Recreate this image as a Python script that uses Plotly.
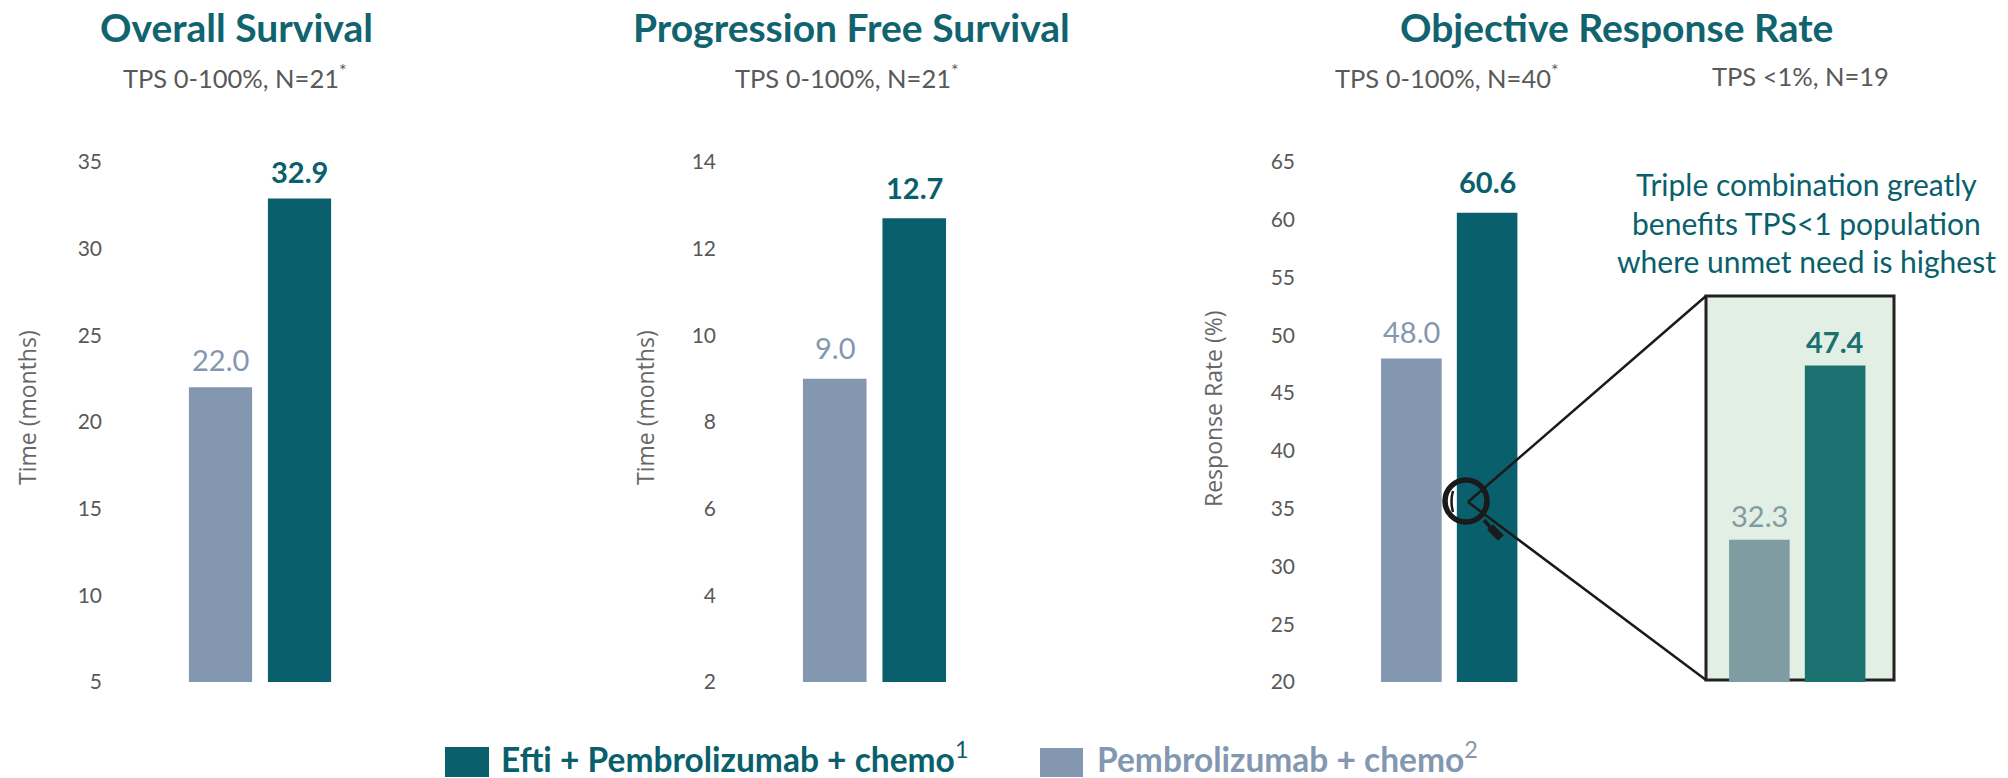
import plotly.graph_objects as go

W, H = 2008, 778
TEAL = "#095F6B"
GREY = "#8497B0"
INSET_TEAL = "#1B7070"
INSET_GREY = "#7F9CA3"
TEXT = "#595959"
FONT = "Lato"

categories = ["Pembrolizumab + chemo", "Efti + Pembrolizumab + chemo"]
os_values = [22.0, 32.9]
pfs_values = [9.0, 12.7]
orr_values = [48.0, 60.6]
orr_tps1_values = [32.3, 47.4]

os_range = [5, 35]
pfs_range = [2, 14]
orr_range = [20, 65]
os_step = 5
pfs_step = 2
orr_step = 5

titles = ["Overall Survival", "Progression Free Survival", "Objective Response Rate"]
subtitles = ["TPS 0-100%, N=21<sup>*</sup>", "TPS 0-100%, N=21<sup>*</sup>",
             "TPS 0-100%, N=40<sup>*</sup>", "TPS &lt;1%, N=19"]
y_titles = ["Time (months)", "Time (months)", "Response Rate (%)"]
callout = ["Triple combination greatly", "benefits TPS&lt;1 population", "where unmet need is highest"]
legend_labels = ["<b>Efti + Pembrolizumab + chemo</b><sup>1</sup>", "<b>Pembrolizumab + chemo</b><sup>2</sup>"]


def px(x):
    return x / W


def py(y):
    return 1 - y / H


fig = go.Figure()
ann = []


def bars(values, xa, ya, cols, lifts):
    fig.add_trace(go.Bar(
        x=categories, y=values, xaxis=xa, yaxis=ya, width=0.8,
        marker=dict(color=cols, line_width=0),
        showlegend=False, hoverinfo="skip"))
    for i, (c, v) in enumerate(zip(categories, values)):
        label = f"{v:.1f}"
        ann.append(dict(text=f"<b>{label}</b>" if i else label, x=c, y=v, xref=xa, yref=ya,
                        xanchor="center", yanchor="middle", yshift=lifts[i], showarrow=False,
                        font=dict(family=FONT, size=29, color=cols[i])))


bars(os_values, "x", "y", [GREY, TEAL], [28, 27])
bars(pfs_values, "x2", "y2", [GREY, TEAL], [31, 31])
bars(orr_values, "x3", "y3", [GREY, TEAL], [27, 31])
bars(orr_tps1_values, "x4", "y3", [INSET_GREY, INSET_TEAL], [24, 24])

dom_y = [py(682), py(162)]


def xax(l, r, anchor):
    return dict(domain=[px(l), px(r)], anchor=anchor, visible=False, range=[-0.5, 1.5],
                type="category", categoryorder="array", categoryarray=categories)


def yax(rng, step, pos):
    return dict(domain=dom_y, range=rng, dtick=step, anchor="free", position=px(pos),
                showgrid=False, zeroline=False, showline=False, ticks="",
                tickfont=dict(family=FONT, size=21, color=TEXT))


layout = dict(
    width=W, height=H, margin=dict(l=0, r=0, t=0, b=0, autoexpand=False),
    paper_bgcolor="white", plot_bgcolor="white", bargap=0.2,
    xaxis=xax(181, 339, "y"), xaxis2=xax(795, 954, "y2"),
    xaxis3=xax(1373.5, 1525, "y3"), xaxis4=xax(1721.5, 1873, "y3"),
    yaxis=yax(os_range, os_step, 102),
    yaxis2=yax(pfs_range, pfs_step, 716),
    yaxis3=yax(orr_range, orr_step, 1295),
)


def note(text, x, y, size, color, bold=False, anchor="center", angle=0, family=FONT):
    ann.append(dict(text=f"<b>{text}</b>" if bold else text, x=px(x), y=py(y),
                    xref="paper", yref="paper", showarrow=False, textangle=angle,
                    xanchor=anchor, yanchor="middle",
                    font=dict(family=family, size=size, color=color)))


for t, cx in zip(titles, [236, 851, 1616]):
    note(t, cx, 27, 39, "#10636F", True)
for t, cx in zip(subtitles, [235, 847, 1447, 1800]):
    note(t, cx, 76, 25.5, TEXT)
for t, cy in zip(callout, [184, 222.5, 261]):
    note(t, 1806, cy, 30, TEAL)
for t, cx, cy in zip(y_titles, [27, 645, 1213], [408, 408, 409]):
    note(t, cx, cy, 23, "#666666", angle=-90, family="Open Sans")
note(legend_labels[0], 499, 757, 33.5, TEAL, anchor="left")
note(legend_labels[1], 1095, 757, 33.5, GREY, anchor="left")

LINE = "#1a1a1a"
shapes = [
    dict(type="rect", xref="paper", yref="paper", layer="below",
         x0=px(1706), x1=px(1894), y0=py(680), y1=py(296),
         fillcolor="#E2EFE5", line=dict(color="#222222", width=3)),
    dict(type="line", xref="paper", yref="paper", x0=px(1468), y0=py(502), x1=px(1706), y1=py(296),
         line=dict(color=LINE, width=2.5)),
    dict(type="line", xref="paper", yref="paper", x0=px(1468), y0=py(502), x1=px(1706), y1=py(680),
         line=dict(color=LINE, width=2.5)),
    dict(type="circle", xref="paper", yref="paper", x0=px(1445), x1=px(1487), y0=py(522), y1=py(480),
         line=dict(color=LINE, width=5.5)),
    dict(type="path", xref="paper", yref="paper",
         path=f"M {px(1453)} {py(491)} Q {px(1450)} {py(501)} {px(1453)} {py(512)}",
         line=dict(color=LINE, width=2.5)),
    dict(type="line", xref="paper", yref="paper", x0=px(1484), y0=py(520), x1=px(1490), y1=py(527),
         line=dict(color=LINE, width=3.5)),
    dict(type="line", xref="paper", yref="paper", x0=px(1490), y0=py(527), x1=px(1501), y1=py(538),
         line=dict(color=LINE, width=8)),
    dict(type="rect", xref="paper", yref="paper", x0=px(445), x1=px(489), y0=py(777), y1=py(747),
         fillcolor=TEAL, line_width=0),
    dict(type="rect", xref="paper", yref="paper", x0=px(1040), x1=px(1083), y0=py(777), y1=py(748),
         fillcolor=GREY, line_width=0),
]
fig.update_layout(**layout, annotations=ann, shapes=shapes)
fig.write_html("out.html", config={"displayModeBar": False},
               post_script="document.body.style.margin='0';")
